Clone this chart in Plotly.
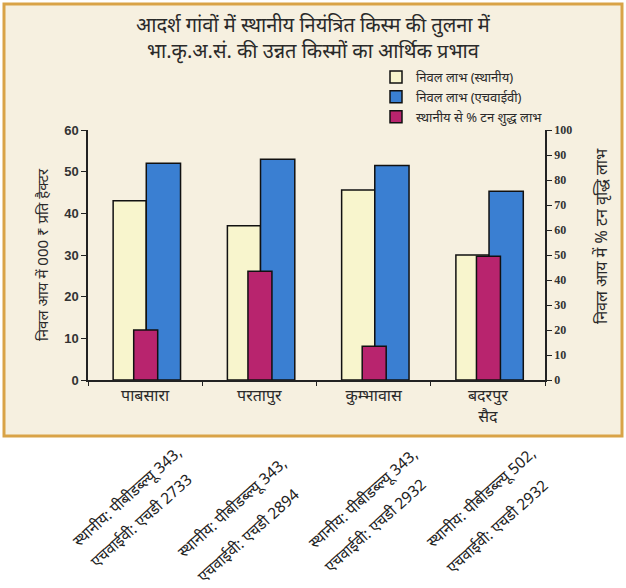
import plotly.graph_objects as go

# data
villages = ["पाबसारा", "परतापुर", "कुम्भावास", "बदरपुर<br>सैद"]
net_local = [43, 37, 45.6, 30]
net_hyv = [52, 53, 51.5, 45.3]
pct_gain = [20, 43.5, 13.5, 49.5]
left_ticks = [0, 10, 20, 30, 40, 50, 60]
right_ticks = [0, 10, 20, 30, 40, 50, 60, 70, 80, 90, 100]
variety_line1 = ["स्थानीय: पीबीडब्ल्यू 343,", "स्थानीय: पीबीडब्ल्यू 343,",
                 "स्थानीय: पीबीडब्ल्यू 343,", "स्थानीय: पीबीडब्ल्यू 502,"]
variety_line2 = ["एचवाईवी: एचडी 2733", "एचवाईवी: एचडी 2894",
                 "एचवाईवी: एचडी 2932", "एचवाईवी: एचडी 2932"]

W, H = 626, 588
L, R, T, B = 88, 81, 130, 208
PW, PH = W - L - R, H - T - B


def px(x, y):
    # pixel position -> paper coords
    return (x - L) / PW, (H - B - y) / PH


colors = {
    'bg': '#f6f0e0',
    'border': '#d9a347',
    'local': '#f8f5cd',
    'hyv': '#3a7fd2',
    'gain': '#b8246e',
    'text': '#2a2a2a',
}
font_main = "Noto Sans, DejaVu Sans, sans-serif"

fig = go.Figure()
fig.add_trace(go.Bar(
    x=villages, y=net_local, name="निवल लाभ (स्थानीय)",
    marker=dict(color=colors['local'], line=dict(color='#111', width=1.5)),
    offset=-0.28, width=0.29, yaxis='y'))
fig.add_trace(go.Bar(
    x=villages, y=net_hyv, name="निवल लाभ (एचवाईवी)",
    marker=dict(color=colors['hyv'], line=dict(color='#111', width=1.5)),
    offset=0.01, width=0.30, yaxis='y'))
fig.add_trace(go.Bar(
    x=villages, y=pct_gain, name="स्थानीय से % टन शुद्ध लाभ",
    marker=dict(color=colors['gain'], line=dict(color='#111', width=1.5)),
    offset=-0.10, width=0.21, yaxis='y2'))

# cream frame with orange border behind the chart
x0, y0 = px(4, 4)
x1, y1 = px(622, 436)
fig.add_shape(type='rect', xref='paper', yref='paper', x0=x0, y0=y1, x1=x1, y1=y0,
              fillcolor=colors['bg'], line=dict(color=colors['border'], width=3),
              layer='below')

annotations = []
tx, ty = px(313, 38)
annotations.append(dict(
    x=tx, y=ty, xref='paper', yref='paper', showarrow=False,
    xanchor='center', yanchor='middle',
    text="आदर्श गांवों में स्थानीय नियंत्रित किस्म की तुलना में<br>भा.कृ.अ.सं. की उन्नत किस्मों का आर्थिक प्रभाव",
    font=dict(size=20, color=colors['text'], family=font_main)))

# right axis title sits a bit above the middle in the original
rx, ry = px(601, 236)
annotations.append(dict(
    x=rx, y=ry, xref='paper', yref='paper', showarrow=False,
    xanchor='center', yanchor='middle', textangle=-90,
    text="निवल आय में % टन वृद्धि लाभ",
    font=dict(size=16, color=colors['text'], family=font_main)))

# rotated variety labels under the frame
centers1 = [(127, 496), (232, 507), (363, 498), (481, 497)]
centers2 = [(141, 520), (248, 535), (375, 525), (497, 526)]
for i in range(len(villages)):
    for txt, (cx, cy) in ((variety_line1[i], centers1[i]), (variety_line2[i], centers2[i])):
        ax_, ay_ = px(cx, cy)
        annotations.append(dict(
            x=ax_, y=ay_, xref='paper', yref='paper', showarrow=False,
            xanchor='center', yanchor='middle',
            text=txt, textangle=-42,
            font=dict(size=15.5, color='#222', family=font_main)))

lx, ly = px(376, 62)

fig.update_layout(
    width=W, height=H,
    paper_bgcolor='white',
    plot_bgcolor='rgba(0,0,0,0)',
    margin=dict(l=L, r=R, t=T, b=B),
    font=dict(family=font_main, color=colors['text']),
    showlegend=True,
    legend=dict(x=lx, y=ly, xanchor='left', yanchor='top',
                bgcolor='rgba(0,0,0,0)', font=dict(size=13),
                itemwidth=30, tracegroupgap=0),
    annotations=annotations,
    bargap=0.4,
    xaxis=dict(
        showline=True, linecolor='#222', linewidth=1.5,
        ticks='outside', tickson='boundaries', ticklen=4, tickcolor='#222',
        tickfont=dict(size=16, color=colors['text']),
        showgrid=False),
    yaxis=dict(
        range=[0, 60], tickvals=left_ticks, showline=True, linecolor='#222',
        linewidth=1.5, ticks='outside', ticklen=5, tickcolor='#222',
        showgrid=False, zeroline=False,
        tickfont=dict(size=13, color='#333', family="Liberation Sans, Arial", weight='bold'),
        title=dict(text="निवल आय में 000 ₹ प्रति हैक्टर",
                   font=dict(size=15, color=colors['text']), standoff=12)),
    yaxis2=dict(
        range=[0, 100], tickvals=right_ticks, overlaying='y', side='right',
        showline=True, linecolor='#222', linewidth=1.5, ticks='outside',
        ticklen=5, tickcolor='#222', showgrid=False, zeroline=False,
        tickfont=dict(size=12, color='#333', family="Liberation Serif, Times New Roman", weight='bold')),
)

# drop the default 8px body margin so the figure sits at the page corner
fig.write_html("out.html", config={'displayModeBar': False},
               post_script="document.body.style.margin='0';")
